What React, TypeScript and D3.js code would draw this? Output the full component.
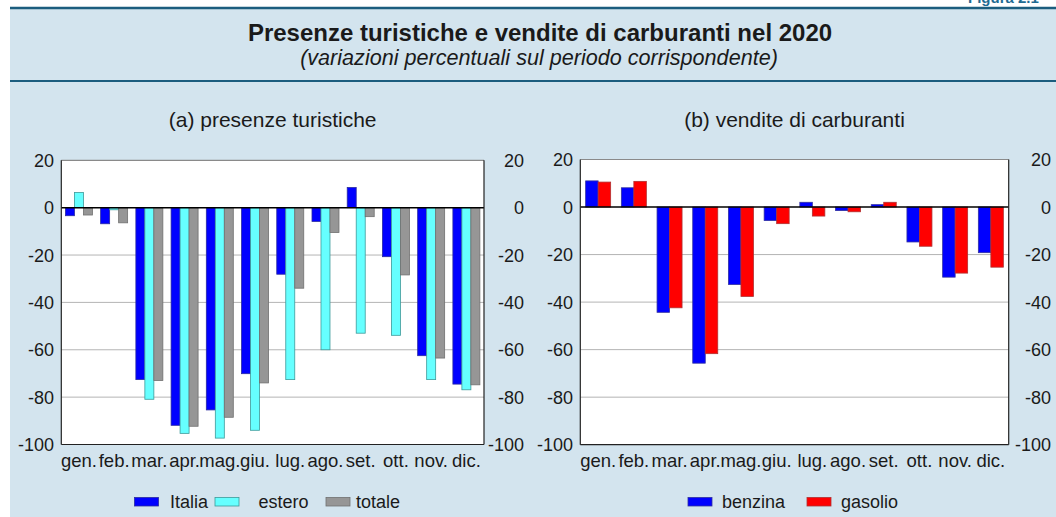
import React from "react";
import * as d3 from "d3";

const months = ["gen.", "feb.", "mar.", "apr.", "mag.", "giu.", "lug.", "ago.", "set.", "ott.", "nov.", "dic."];
const italia = [-3.4, -6.8, -72.6, -91.9, -85.4, -70.1, -28.1, -5.8, 8.5, -20.7, -62.5, -74.5];
const estero = [6.4, -0.9, -80.9, -95.3, -97.3, -94.0, -72.6, -60.0, -53.0, -53.9, -72.6, -76.9];
const totale = [-3.1, -6.4, -73.0, -92.3, -88.5, -74.0, -34.0, -10.5, -3.8, -28.4, -63.5, -74.8];
const benzina = [11.0, 8.1, -44.3, -65.7, -32.6, -5.7, 2.0, -1.5, 1.0, -14.7, -29.5, -19.2];
const gasolio = [10.5, 10.8, -42.4, -61.7, -37.6, -7.0, -3.8, -2.0, 2.0, -16.5, -27.8, -25.3];
const yTicks = [20, 0, -20, -40, -60, -80, -100];

const FONT = "'Liberation Sans', Arial, Helvetica, sans-serif";
const BG = "#d3e4ee";
const DARK = "#1b5d7e";

type Series = { name: string; values: number[]; fill: string; stroke: string; legendX: number; textX: number };

function Panel(props: {
  left: number; right: number; top: number; bottom: number;
  title: string; series: Series[]; pad: number; leftLabelX: number; rightLabelX: number;
}) {
  const { left, right, top, bottom, title, series, pad, leftLabelX, rightLabelX } = props;
  const y = d3.scaleLinear().domain([-100, 20]).range([bottom, top]);
  const x0 = d3.scaleBand<string>().domain(months).range([left, right]).padding(0);
  const x1 = d3.scaleBand<string>().domain(series.map((s) => s.name)).range([0, x0.bandwidth()]).paddingInner(0).paddingOuter(pad);
  const cx = (left + right) / 2;
  return (
    <g>
      <text x={cx} y={127} textAnchor="middle" fontSize={21} fill="#1a1a1a">{title}</text>
      <rect x={left} y={top} width={right - left} height={bottom - top} fill="#fff" />
      {yTicks.filter((t) => t !== 20 && t !== 0 && t !== -100).map((t) => (
        <line key={t} x1={left} x2={right} y1={y(t)} y2={y(t)} stroke="#b4b4b4" strokeWidth={1} />
      ))}
      {series.map((s) =>
        s.values.map((v, i) => {
          const m = months[i];
          const bx = (x0(m) as number) + (x1(s.name) as number);
          const y0 = y(0);
          const yv = y(v);
          return (
            <rect key={s.name + i} x={bx} y={Math.min(y0, yv)} width={x1.bandwidth()} height={Math.abs(yv - y0)}
              fill={s.fill} stroke={s.stroke} strokeWidth={0.8} />
          );
        })
      )}
      <line x1={left} x2={right} y1={y(0)} y2={y(0)} stroke="#000" strokeWidth={1.5} />
      <line x1={left} x2={right} y1={top} y2={top} stroke="#8a8a8a" strokeWidth={1.2} />
      <line x1={left} x2={left} y1={top} y2={bottom} stroke="#222" strokeWidth={1.2} />
      <line x1={right} x2={right} y1={top} y2={bottom} stroke="#222" strokeWidth={1.2} />
      <line x1={left} x2={right} y1={bottom} y2={bottom} stroke="#222" strokeWidth={1.2} />
      {yTicks.map((t) => (
        <g key={"t" + t}>
          <text x={leftLabelX} y={y(t)} dy="0.36em" textAnchor="end" fontSize={18} fill="#1a1a1a">{t}</text>
          <text x={rightLabelX} y={y(t)} dy="0.36em" textAnchor="end" fontSize={18} fill="#1a1a1a">{t}</text>
        </g>
      ))}
      {months.map((m) => (
        <text key={"m" + m} x={(x0(m) as number) + x0.bandwidth() / 2} y={467} textAnchor="middle" fontSize={18.5} fill="#1a1a1a">{m}</text>
      ))}
      {series.map((s) => (
        <g key={"lg" + s.name}>
          <rect x={s.legendX} y={497.5} width={24} height={8.5} fill={s.fill} stroke={s.stroke} strokeWidth={0.8} />
          <text x={s.textX} y={507.5} fontSize={18} fill="#1a1a1a">{s.name}</text>
        </g>
      ))}
    </g>
  );
}

export default function App() {
  const leftSeries: Series[] = [
    { name: "Italia", values: italia, fill: "#0000ff", stroke: "#2a2aa0", legendX: 134.5, textX: 170 },
    { name: "estero", values: estero, fill: "#66ffff", stroke: "#3d9a9a", legendX: 215, textX: 258.5 },
    { name: "totale", values: totale, fill: "#969696", stroke: "#707070", legendX: 326, textX: 356 },
  ];
  const rightSeries: Series[] = [
    { name: "benzina", values: benzina, fill: "#0000ff", stroke: "#3030a0", legendX: 688, textX: 722 },
    { name: "gasolio", values: gasolio, fill: "#ff0000", stroke: "#b03030", legendX: 807, textX: 841 },
  ];
  return (
    <div style={{ position: "fixed", left: 0, top: 0 }}>
      <svg width={1056} height={517} style={{ display: "block", fontFamily: FONT }}>
        <rect x={0} y={0} width={1056} height={517} fill="#fff" />
        <rect x={10} y={8} width={1046} height={509} fill={BG} />
        <text x={968} y={3} fontSize={15} fontWeight="bold" fill="#1e6b92">Figura 2.1</text>
        <line x1={10} x2={1056} y1={8} y2={8} stroke={DARK} strokeWidth={2.5} />
        <line x1={10} x2={1056} y1={81} y2={81} stroke={DARK} strokeWidth={2} />
        <text x={540} y={41} textAnchor="middle" fontSize={24} fontWeight="bold" fill="#1a1a1a">
          Presenze turistiche e vendite di carburanti nel 2020
        </text>
        <text x={539} y={65} textAnchor="middle" fontSize={21.6} fontStyle="italic" fill="#1a1a1a">
          (variazioni percentuali sul periodo corrispondente)
        </text>
        <Panel left={61.3} right={484} top={160.3} bottom={444.5} title="(a) presenze turistiche"
          series={leftSeries} pad={0.458} leftLabelX={54} rightLabelX={524} />
        <Panel left={580.3} right={1008.7} top={159.5} bottom={444.7} title="(b) vendite di carburanti"
          series={rightSeries} pad={0.428} leftLabelX={573} rightLabelX={1051} />
      </svg>
    </div>
  );
}
